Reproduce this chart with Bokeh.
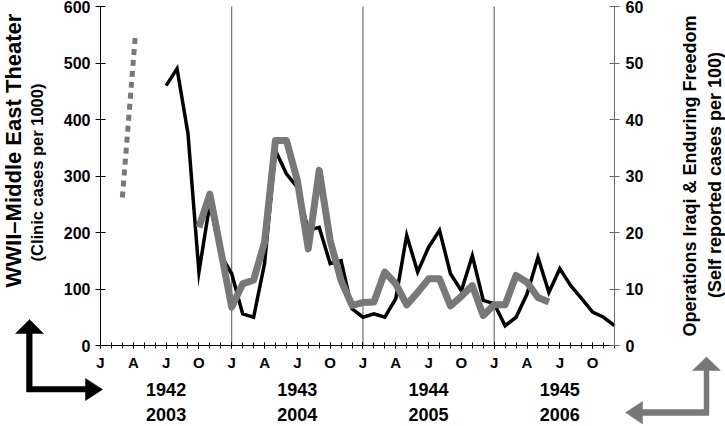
import math
from bokeh.plotting import figure
from bokeh.models import Range1d, LinearAxis, FixedTicker, Label, PolyAnnotation
from bokeh.embed import file_html
from bokeh.resources import INLINE

# ---------------- data ----------------
month_labels = ["J", "A", "J", "O"]          # Jan, Apr, Jul, Oct
years_wwii = ["1942", "1943", "1944", "1945"]
years_oif = ["2003", "2004", "2005", "2006"]
left_ticks = [0, 100, 200, 300, 400, 500, 600]
right_ticks = [0, 10, 20, 30, 40, 50, 60]
year_starts = [12, 24, 36]

# months counted from January of the first year (0 = Jan 1942 / Jan 2003)
wwii_months = list(range(6, 48))
wwii_cases = [460, 490, 375, 130, 251, 160, 127, 56, 50, 145, 345, 304, 280, 204,
              209, 145, 150, 65, 50, 56, 50, 83, 195, 130, 174, 204, 127, 97,
              159, 80, 74, 35, 50, 91, 156, 94, 136, 106, 83, 59, 50, 35]

oif_months = list(range(9, 42))
oif_cases = [20.9, 26.8, 16.8, 6.8, 10.9, 11.6, 18.3, 36.3, 36.3, 29.2, 17.1,
             31.0, 18.6, 11.5, 7.1, 7.6, 7.7, 13.0, 10.9, 7.2, 9.4, 11.8, 11.8,
             7.0, 8.7, 10.6, 5.3, 7.2, 7.2, 12.4, 11.2, 8.5, 7.7]

oif_early_months = [2, 3.2]
oif_early_cases = [26.2, 55.2]

# ---------------- layout (canvas pixels) ----------------
W, H = 725, 426
FL, FR, FT, FB = 100, 614, 6, 345     # plotting area edges in canvas pixels
NM = 47
YMAX = 600
PXM = (FR - FL) / NM
PXV = (FB - FT) / YMAX

X0 = -FL / PXM
X1 = (W - FL) / PXM
Y1 = FB / PXV
Y0 = (FB - H) / PXV


def dx(px):
    return X0 + px / PXM


def dy(py):
    return (FB - py) / PXV


FONT = "Liberation Sans"
GREY = "#787878"
AXGREY = "#6a6a6a"

p = figure(width=W, height=H, x_range=Range1d(X0, X1), y_range=Range1d(Y0, Y1),
           output_backend="svg", toolbar_location=None, title=None, min_border=0)
p.extra_y_ranges = {"oif": Range1d(Y0 / 10, Y1 / 10)}
p.outline_line_color = None
p.xgrid.visible = False
p.ygrid.visible = False
p.background_fill_color = "white"
p.border_fill_color = "white"

# bottom axis
xa = p.xaxis[0]
xa.fixed_location = 0
xa.bounds = (0, NM)
xa.ticker = FixedTicker(ticks=list(range(0, 48, 3)), minor_ticks=list(range(48)))
xa.major_label_overrides = {m: month_labels[(m % 12) // 3] for m in range(0, 48, 3)}
xa.major_tick_in = 3
xa.major_tick_out = 3
xa.minor_tick_in = 3
xa.minor_tick_out = 3
xa.axis_line_color = "black"
xa.major_tick_line_color = "black"
xa.minor_tick_line_color = "black"
xa.major_label_standoff = 5
xa.major_label_text_font = FONT
xa.major_label_text_font_style = "bold"
xa.major_label_text_font_size = "15px"
xa.major_label_text_color = "black"

# left axis
ya = p.yaxis[0]
ya.fixed_location = 0
ya.bounds = (0, YMAX)
ya.ticker = FixedTicker(ticks=left_ticks)
ya.major_tick_in = 5
ya.major_tick_out = 5
ya.minor_tick_line_color = None
ya.axis_line_color = "black"
ya.major_tick_line_color = "black"
ya.major_label_standoff = 5
ya.major_label_text_font = FONT
ya.major_label_text_font_style = "bold"
ya.major_label_text_font_size = "16px"
ya.major_label_text_color = "black"

# right axis
ra = LinearAxis(y_range_name="oif", ticker=FixedTicker(ticks=right_ticks),
                fixed_location=NM, bounds=(0, 60))
ra.major_tick_in = 5
ra.major_tick_out = 5
ra.minor_tick_line_color = None
ra.axis_line_color = AXGREY
ra.major_tick_line_color = AXGREY
ra.major_label_standoff = 6
ra.major_label_text_font = FONT
ra.major_label_text_font_style = "bold"
ra.major_label_text_font_size = "16px"
ra.major_label_text_color = "black"
p.add_layout(ra, "right")

# year separators
p.segment(x0=year_starts, y0=0, x1=year_starts, y1=YMAX, line_color="#555555",
          line_width=1)

# series
p.line(wwii_months, wwii_cases, line_color="black", line_width=3.5, line_join="miter")
p.line(oif_months, oif_cases, y_range_name="oif", line_color=GREY, line_width=7,
       line_join="round")
p.line(oif_early_months, oif_early_cases, y_range_name="oif", line_color=GREY,
       line_width=5, line_dash="6 5")

# year labels
for i, (a, b) in enumerate(zip(years_wwii, years_oif)):
    xm = 6 + 12 * i
    for txt, py in ((a, 389), (b, 414)):
        p.add_layout(Label(x=xm, y=dy(py), text=txt, text_align="center",
                           text_baseline="middle", text_font=FONT,
                           text_font_style="bold", text_font_size="18px",
                           text_color="black"))

# axis titles
titles = [
    ("WWII\u2013Middle East Theater", 12.5, 150, "22px"),
    ("(Clinic cases per 1000)", 36, 172, "16.5px"),
    ("Operations Iraqi & Enduring Freedom", 689.5, 175.5, "18px"),
    ("(Self reported cases per 100)", 714.5, 174.5, "18px"),
]
for txt, px, py, fs in titles:
    p.add_layout(Label(x=dx(px), y=dy(py), text=txt, angle=math.pi / 2,
                       text_align="center", text_baseline="middle", text_font=FONT,
                       text_font_style="bold", text_font_size=fs, text_color="black"))

# corner arrows (canvas pixels)
black_arrow = [(29, 319), (43, 333), (31.7, 333), (31.7, 386), (85, 386), (85, 378),
               (102, 389), (85, 400), (85, 391.5), (26, 391.5), (26, 333), (15, 333)]
grey_arrow = [(706, 356.5), (720, 370), (708.5, 370), (708.5, 415), (642, 415),
              (642, 423.5), (625, 412), (642, 401), (642, 409), (703.5, 409),
              (703.5, 370), (692, 370)]
for pts, col in ((black_arrow, "black"), (grey_arrow, GREY)):
    p.add_layout(PolyAnnotation(xs=[dx(a) for a, _ in pts], ys=[dy(b) for _, b in pts],
                                fill_color=col, fill_alpha=1, line_color=col,
                                line_alpha=1, line_width=0.5))

open("out.html", "w").write(file_html(p, INLINE))
